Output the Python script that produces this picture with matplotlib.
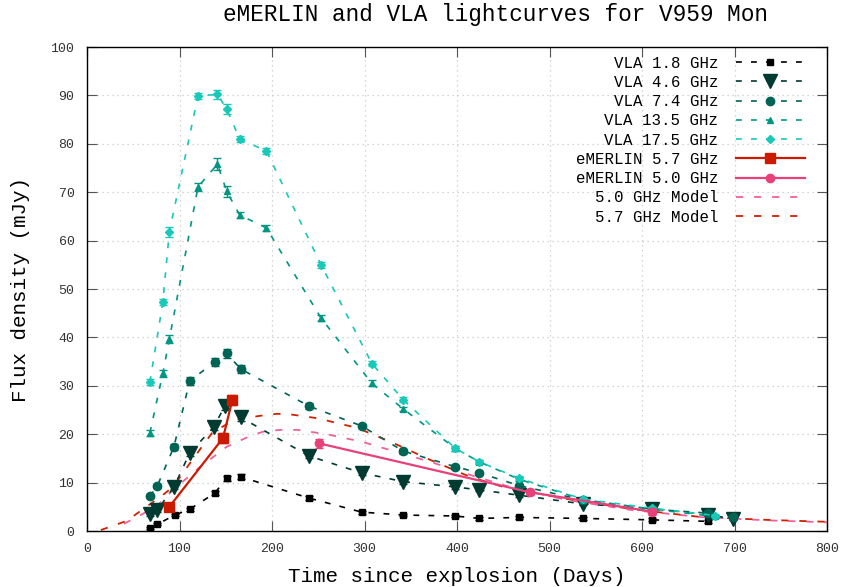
import matplotlib
matplotlib.use("Agg")
import matplotlib.pyplot as plt

plt.rcParams['font.family'] = ['Liberation Mono', 'DejaVu Sans Mono']

# ---- data ----
d18 = [68, 76, 95, 111, 138, 151, 166, 240, 297, 342, 398, 424, 467, 536, 611, 671]
f18 = [0.6, 1.4, 3.3, 4.5, 7.8, 10.9, 11.2, 6.8, 3.9, 3.3, 3.1, 2.6, 2.8, 2.6, 2.3, 2.0]
e18 = [0.2, 0.2, 0.3, 0.3, 0.4, 0.5, 0.5, 0.4, 0.3, 0.3, 0.3, 0.3, 0.3, 0.3, 0.3, 0.3]

d46 = [68, 76, 94, 111, 137, 149, 166, 240, 297, 342, 398, 424, 467, 536, 611, 671, 698]
f46 = [3.5, 4.3, 9.1, 16.1, 21.5, 25.8, 23.5, 15.5, 12.0, 10.2, 9.1, 8.5, 7.4, 5.6, 4.6, 3.4, 2.5]
e46 = [0.3, 0.3, 0.5, 0.6, 0.7, 0.8, 0.7, 0.5, 0.4, 0.4, 0.4, 0.3, 0.3, 0.3, 0.3, 0.3, 0.3]

d74 = [68, 76, 94, 111, 138, 151, 166, 240, 297, 342, 398, 424, 467, 536, 611, 671, 698]
f74 = [7.2, 9.3, 17.4, 31.0, 34.9, 36.7, 33.5, 25.8, 21.7, 16.5, 13.3, 12.0, 9.4, 6.4, 4.5, 3.7, 2.8]
e74 = [0.4, 0.4, 0.6, 0.8, 0.8, 0.9, 0.8, 0.6, 0.5, 0.5, 0.4, 0.4, 0.4, 0.3, 0.3, 0.3, 0.3]

d135 = [68, 82, 89, 120, 141, 151, 165, 194, 253, 308, 342, 398, 424, 467, 536, 611, 679]
f135 = [20.3, 32.6, 39.6, 71.1, 75.8, 70.2, 65.3, 62.6, 44.0, 30.5, 25.2, 17.1, 14.3, 10.7, 6.5, 4.5, 3.0]
e135 = [0.6, 0.7, 0.8, 0.8, 1.2, 1.1, 0.6, 0.6, 0.6, 0.6, 0.5, 0.5, 0.4, 0.4, 0.3, 0.3, 0.3]

d175 = [68, 82, 89, 120, 141, 151, 165, 194, 253, 308, 342, 398, 424, 467, 536, 611, 679]
f175 = [30.8, 47.3, 61.8, 89.9, 90.2, 87.2, 81.0, 78.5, 55.0, 34.6, 27.1, 17.1, 14.3, 10.9, 6.6, 4.7, 3.2]
e175 = [0.7, 0.7, 1.1, 0.6, 1.0, 1.0, 0.6, 0.6, 0.6, 0.6, 0.5, 0.5, 0.4, 0.4, 0.3, 0.3, 0.3]

dm57 = [89, 147, 157]
fm57 = [5.0, 19.2, 27.0]
em57 = [0.8, 1.1, 1.0]

dm50 = [251, 479, 611]
fm50 = [18.1, 8.0, 4.0]
em50 = [0.9, 0.6, 0.7]

# model curves
mod50_d = [40, 60, 79, 93, 122, 151, 176, 190, 209, 227, 259, 298, 335, 371, 414, 457, 519, 590, 663, 735, 800]
mod50_f = [1.5, 3.5, 5.8, 8.5, 13.2, 17.4, 19.6, 20.5, 20.9, 20.9, 20.0, 18.4, 16.3, 14.3, 11.6, 9.1, 6.4, 4.3, 2.9, 2.2, 1.8]
mod57_d = [15, 43, 59, 79, 93, 115, 135, 158, 187, 205, 216, 249, 292, 331, 371, 414, 450, 519, 590, 663, 735, 800]
mod57_f = [0.2, 2.1, 4.3, 7.0, 9.1, 15.0, 20.2, 22.9, 23.8, 24.2, 24.2, 23.3, 21.3, 18.2, 14.7, 11.2, 9.1, 6.6, 4.5, 2.9, 2.3, 1.9]

fig = plt.figure(figsize=(8.42, 5.87), dpi=100)
ax = fig.add_axes([87/842, 56/587, 740/842, 484/587])

dash = (0, (3.5, 5.5))
vla = [
    (d18, f18, e18, 'black', 's', 5, 'VLA 1.8 GHz'),
    (d46, f46, e46, '#003a30', 'v', 10, 'VLA 4.6 GHz'),
    (d74, f74, e74, '#006455', 'o', 6, 'VLA 7.4 GHz'),
    (d135, f135, e135, '#009682', '^', 5, 'VLA 13.5 GHz'),
    (d175, f175, e175, '#18c8b8', 'D', 4, 'VLA 17.5 GHz'),
]
for d, f, e, c, m, ms, lab in vla:
    ax.errorbar(d, f, yerr=e, fmt='none', ecolor=c, elinewidth=1, capsize=3, zorder=3)
    ax.plot(d, f, color=c, ls=dash, lw=1.2, marker=m, ms=ms, label=lab, zorder=3)

ax.errorbar(dm57, fm57, yerr=em57, fmt='none', ecolor='#cc1a00', elinewidth=1, capsize=3, zorder=4)
ax.plot(dm57, fm57, color='#cc1a00', lw=1.6, marker='s', ms=7, label='eMERLIN 5.7 GHz', zorder=4)
ax.errorbar(dm50, fm50, yerr=em50, fmt='none', ecolor='#e8407a', elinewidth=1, capsize=3, zorder=4)
ax.plot(dm50, fm50, color='#e8407a', lw=1.6, marker='o', ms=6, label='eMERLIN 5.0 GHz', zorder=4)

ax.plot(mod50_d, mod50_f, color='#f0609a', ls=(0, (4, 6)), lw=1.3, label='5.0 GHz Model', zorder=2)
ax.plot(mod57_d, mod57_f, color='#d02000', ls=(0, (4, 6)), lw=1.3, label='5.7 GHz Model', zorder=2)

ax.set_xlim(0, 800)
ax.set_ylim(0, 100)
ax.set_xticks(range(0, 801, 100))
ax.set_yticks(range(0, 101, 10))
ax.tick_params(direction='in', length=7, width=0.8, color='#555555', top=True, right=True,
               labelsize=9.5, labelcolor='#333333', pad=9)
ax.grid(True, color='#c8c8c8', ls=(0, (1, 3)), lw=0.9)
for s in ax.spines.values():
    s.set_linewidth(1.0)

fig.text(496/842, 1 - 15/587, 'eMERLIN and VLA lightcurves for V959 Mon',
         fontsize=16.4, ha='center', va='center')
ax.set_xlabel('Time since explosion (Days)', fontsize=15, labelpad=8)
ax.set_ylabel('Flux density (mJy)', fontsize=15, labelpad=15)

ax.legend(loc='upper right', bbox_to_anchor=(0.970, 0.982), frameon=False, markerfirst=False,
          fontsize=11.3, handlelength=4.4, handletextpad=1.1, labelspacing=0.27,
          borderpad=0, borderaxespad=0, numpoints=1)

fig.savefig('out.png', dpi=100)
